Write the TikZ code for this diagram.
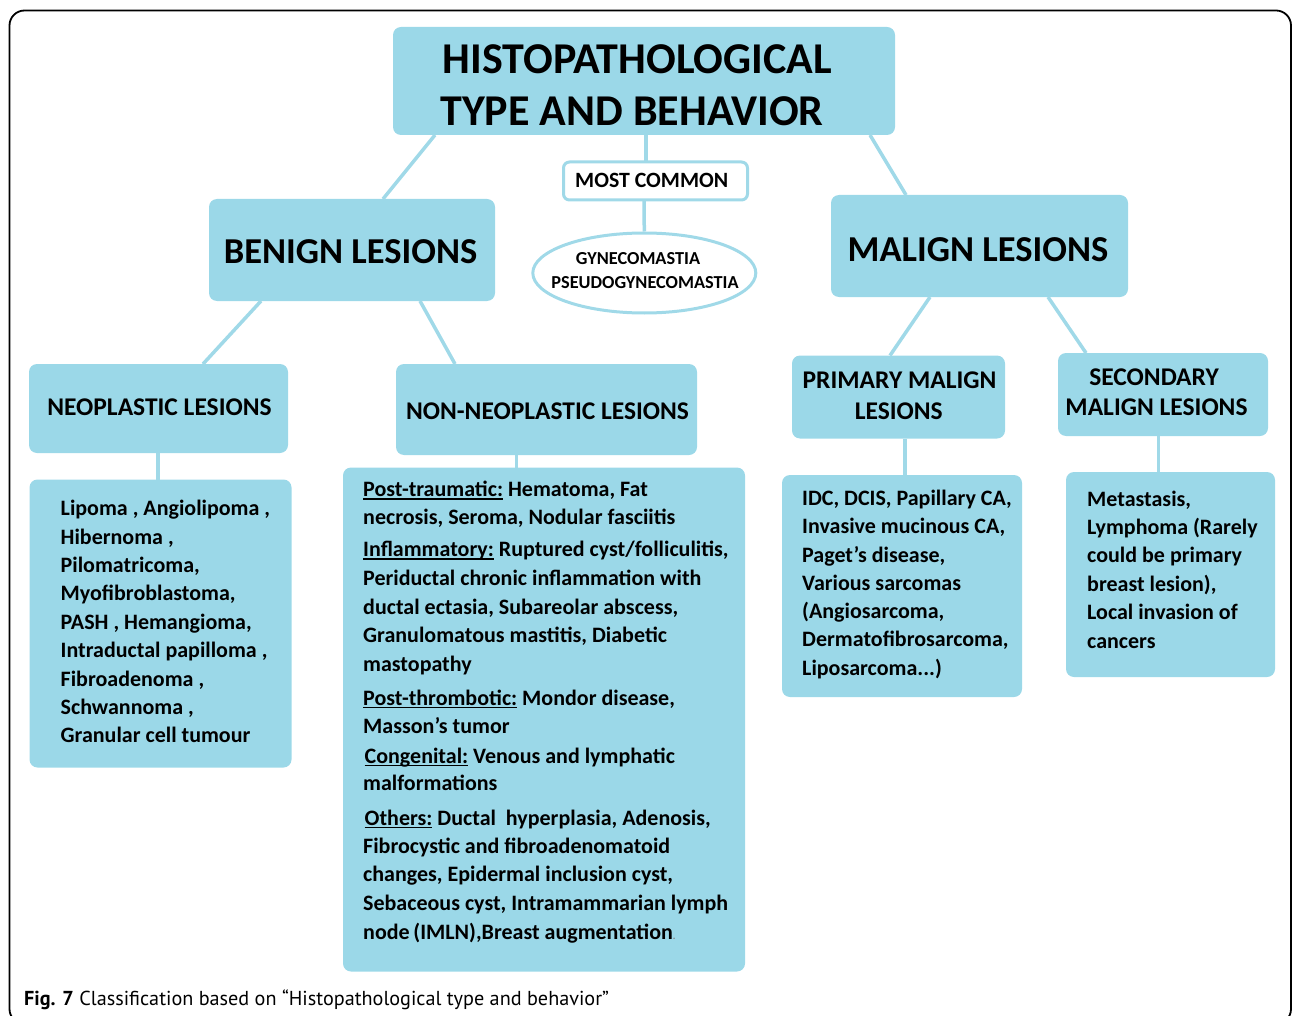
\documentclass[tikz,border=0pt]{standalone}
\usepackage{fontspec}
\setmainfont{Carlito}
\newfontfamily\capfont{PT Sans}
\usetikzlibrary{shapes.geometric}
\definecolor{boxblue}{RGB}{155,216,232}
\definecolor{lineblue}{RGB}{160,217,232}
\newcommand{\myul}[1]{\setbox0\hbox{#1}\rlap{\rule[-3pt]{\wd0}{1.4pt}}\box0\relax}
\tikzset{
  box/.style={fill=boxblue, draw=none, rounded corners=8pt, inner sep=0pt, outer sep=0pt, anchor=north west},
  conn/.style={draw=lineblue, line width=3.5pt},
  lt/.style={anchor=base west, inner sep=0pt, font=\fontsize{22}{26}\selectfont\bfseries},
  hd/.style={anchor=base, inner sep=0pt, font=\fontsize{25.5}{30}\selectfont\bfseries},
}
\begin{document}
\begin{tikzpicture}[x=1pt,y=-1pt]
\useasboundingbox (0,0) rectangle (1292,1016);
\begin{scope}
\clip (0,0) rectangle (1292,1016);
\draw[line width=1.8pt, rounded corners=15pt] (9.5,10.5) rectangle (1291,1024);
\end{scope}

% boxes
\node[box, minimum width=502pt, minimum height=108pt] (title) at (393,27) {};
\node[box, fill=white, draw=lineblue, line width=3pt, rounded corners=6pt, minimum width=184pt, minimum height=38pt] (mc) at (563.5,162) {};
\node[ellipse, draw=lineblue, fill=white, line width=3pt, minimum width=223pt, minimum height=80pt, inner sep=0pt] (ell) at (644.3,273) {};
\node[box, minimum width=286pt, minimum height=102pt] (benign) at (209,199) {};
\node[box, minimum width=297pt, minimum height=102pt] (malign) at (831,195) {};
\node[box, minimum width=259pt, minimum height=89pt] (neo) at (29,364) {};
\node[box, minimum width=301pt, minimum height=91pt] (nonneo) at (396,364) {};
\node[box, minimum width=213pt, minimum height=83pt] (prim) at (792,355.5) {};
\node[box, minimum width=210pt, minimum height=83pt] (sec) at (1058,353) {};
\node[box, minimum width=262pt, minimum height=288pt] (neolist) at (29.5,479.5) {};
\node[box, minimum width=402pt, minimum height=504pt] (nonneolist) at (343,467.5) {};
\node[box, minimum width=240pt, minimum height=222pt] (primlist) at (782,475) {};
\node[box, minimum width=209pt, minimum height=205pt] (seclist) at (1066,472) {};

% connectors
\draw[conn] ([xshift=253pt]title.south west) -- ([xshift=82.5pt]mc.north west);
\draw[conn] ([xshift=80.5pt]mc.south west) -- (ell.north);
\draw[conn] ([xshift=42pt]title.south west) -- ([xshift=174pt]benign.north west);
\draw[conn] ([xshift=477pt]title.south west) -- ([xshift=75pt]malign.north west);
\draw[conn] ([xshift=52pt]benign.south west) -- ([xshift=174pt]neo.north west);
\draw[conn] ([xshift=211pt]benign.south west) -- ([xshift=59pt]nonneo.north west);
\draw[conn] ([xshift=99pt]malign.south west) -- ([xshift=98pt]prim.north west);
\draw[conn] ([xshift=217pt]malign.south west) -- ([xshift=28pt]sec.north west);
\draw[conn] ([xshift=129pt]neo.south west) -- ([xshift=128.5pt]neolist.north west);
\draw[conn] ([xshift=120.5pt]nonneo.south west) -- ([xshift=173.5pt]nonneolist.north west);
\draw[conn] ([xshift=113pt]prim.south west) -- ([xshift=123pt]primlist.north west);
\draw[conn] ([xshift=100.3pt]sec.south west) -- ([xshift=92.3pt]seclist.north west);

% titles
\node[anchor=base, inner sep=0pt, font=\fontsize{44}{50}\selectfont\bfseries] (t1) at (637.5,73.3) {HISTOPATHOLOGICAL};
\node[anchor=base, inner sep=0pt, font=\fontsize{44}{50}\selectfont\bfseries] (t2) at (632,126) {TYPE AND BEHAVIOR};
\node[anchor=base, inner sep=0pt, font=\fontsize{21.8}{26}\selectfont\bfseries] (mct) at (651.7,187.5) {MOST COMMON};
\node[anchor=base, inner sep=0pt, font=\fontsize{18.3}{22}\selectfont\bfseries] (g1) at (638,265) {GYNECOMASTIA};
\node[anchor=base, inner sep=0pt, font=\fontsize{18.3}{22}\selectfont\bfseries] (g2) at (645,288.3) {PSEUDOGYNECOMASTIA};
\node[anchor=base, inner sep=0pt, font=\fontsize{36.5}{40}\selectfont\bfseries] (bt) at (350.5,263) {BENIGN LESIONS};
\node[anchor=base, inner sep=0pt, font=\fontsize{36.5}{40}\selectfont\bfseries] (mt) at (978,261.5) {MALIGN LESIONS};
\node[hd] (neot) at (159.5,415.5) {NEOPLASTIC LESIONS};
\node[hd] (nonneot) at (547.5,419.5) {NON-NEOPLASTIC LESIONS};
\node[hd] (pt1) at (899.5,388.3) {PRIMARY MALIGN};
\node[hd] (pt2) at (898.7,419) {LESIONS};
\node[hd] (st1) at (1154,385) {SECONDARY};
\node[hd] (st2) at (1156.5,415) {MALIGN LESIONS};

% neoplastic list
\foreach \t [count=\i] in {{Lipoma , Angiolipoma ,},{Hibernoma ,},{Pilomatricoma,},{Myofibroblastoma,},{PASH , Hemangioma,},{Intraductal papilloma ,},{Fibroadenoma ,},{Schwannoma ,},{Granular cell tumour}}
  \node[lt] (nl\i) at (60.5,{515.7+(\i-1)*28.4}) {\t};

% non-neoplastic list
\node[lt] (nn1) at (363,496.7) {\myul{Post-traumatic:} Hematoma, Fat};
\node[lt] (nn2) at (363,524.5) {necrosis, Seroma, Nodular fasciitis};
\node[lt] (nn3) at (363,556.7) {\myul{Inflammatory:} Ruptured cyst/folliculitis,};
\node[lt] (nn4) at (363,585.5) {Periductal chronic inflammation with};
\node[lt] (nn5) at (363,614) {ductal ectasia, Subareolar abscess,};
\node[lt] (nn6) at (363,642.7) {Granulomatous mastitis, Diabetic};
\node[lt] (nn7) at (363,671.5) {mastopathy};
\node[lt] (nn8) at (363,705) {\myul{Post-thrombotic:} Mondor disease,};
\node[lt] (nn9) at (363,733.3) {Masson{\char"0027}s tumor};
\node[lt] (nn10) at (364.5,763.3) {\myul{Congenital:} Venous and lymphatic};
\node[lt] (nn11) at (363,790.7) {malformations};
\node[lt] (nn12) at (364.5,825) {\myul{Others:} Ductal\ \ hyperplasia, Adenosis,};
\node[lt] (nn13) at (363,853.3) {Fibrocystic and fibroadenomatoid};
\node[lt] (nn14) at (363,881.7) {changes, Epidermal inclusion cyst,};
\node[lt] (nn15) at (363,910.5) {Sebaceous cyst, Intramammarian lymph};
\node[lt] (nn16) at (363,939.3) {node\,(IMLN),Breast augmentation{\color{gray}\fontsize{10}{10}\selectfont.}};

% primary list
\node[lt] (pl1) at (802,505.7) {IDC, DCIS, Papillary CA,};
\node[lt] (pl2) at (802,533.95) {Invasive mucinous CA,};
\node[lt] (pl3) at (802,562.2) {Paget’s disease,};
\node[lt] (pl4) at (802,590.45) {Various sarcomas};
\node[lt] (pl5) at (802,618.7) {(Angiosarcoma,};
\node[lt] (pl6) at (802,646.95) {Dermatofibrosarcoma,};
\node[lt] (pl7) at (802,675.2) {Liposarcoma...)};

% secondary list
\node[lt] (sl1) at (1087,506) {Metastasis,};
\node[lt] (sl2) at (1087,534.45) {Lymphoma (Rarely};
\node[lt] (sl3) at (1087,562.9) {could be primary};
\node[lt] (sl4) at (1087,591.35) {breast lesion),};
\node[lt] (sl5) at (1087,619.8) {Local invasion of};
\node[lt] (sl6) at (1087,648.25) {cancers};

% caption
\node[anchor=base west, inner sep=0pt, font=\capfont\fontsize{20.2}{24}\selectfont] (cap) at (24,1005) {\textbf{Fig. 7} Classification based on “Histopathological type and behavior”};
\end{tikzpicture}
\end{document}
